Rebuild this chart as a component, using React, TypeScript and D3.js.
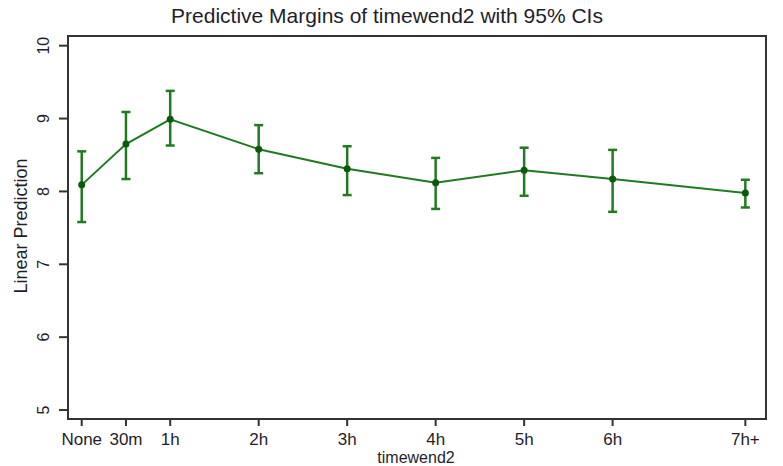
import React from "react";
import * as d3 from "d3";

// timewend2 categories, placed at their value in minutes
const categories = ["None", "30m", "1h", "2h", "3h", "4h", "5h", "6h", "7h+"];
const minutes = [0, 30, 60, 120, 180, 240, 300, 360, 450];
const margins = [8.09, 8.65, 8.99, 8.58, 8.31, 8.12, 8.29, 8.17, 7.98];
const ciLow = [7.58, 8.17, 8.63, 8.25, 7.95, 7.76, 7.94, 7.72, 7.78];
const ciHigh = [8.55, 9.09, 9.38, 8.91, 8.62, 8.46, 8.6, 8.57, 8.16];
const yTicks = [5, 6, 7, 8, 9, 10];

const width = 783;
const height = 466;
const margin = { top: 36, right: 17, bottom: 47, left: 68 };
const green = "#217a21";
const dark = "#0b5a0b";
const axisColor = "#333333";
const font = "'Liberation Sans', Arial, sans-serif";

export default function App() {
  const innerWidth = width - margin.left - margin.right;
  const innerHeight = height - margin.top - margin.bottom;

  const x = d3.scaleLinear().domain([-9.3, 464]).range([0, innerWidth]);
  const y = d3.scaleLinear().domain([4.877, 10.133]).range([innerHeight, 0]);

  const pts = minutes.map((m, i) => ({ m, v: margins[i], lo: ciLow[i], hi: ciHigh[i], label: categories[i] }));
  const line = d3
    .line<(typeof pts)[number]>()
    .x(d => x(d.m))
    .y(d => y(d.v));

  return (
    <svg
      width={width}
      height={height}
      style={{ position: "absolute", left: 0, top: 0, background: "#fff", fontFamily: font }}
    >
      <text x={387} y={23} textAnchor="middle" fontSize={21} fill="#1e1e2a">
        Predictive Margins of timewend2 with 95% CIs
      </text>
      <g transform={`translate(${margin.left},${margin.top})`}>
        <rect x={0} y={0} width={innerWidth} height={innerHeight} fill="none" stroke={axisColor} strokeWidth={2} />
        {yTicks.map(t => (
          <g key={t} transform={`translate(0,${y(t)})`}>
            <line x1={-9} x2={0} stroke={axisColor} strokeWidth={2} />
            <text transform="translate(-19,0) rotate(-90)" textAnchor="middle" fontSize={16} fill="#1e1e2a">
              {t}
            </text>
          </g>
        ))}
        {pts.map(d => (
          <g key={d.label} transform={`translate(${x(d.m)},${innerHeight})`}>
            <line y1={0} y2={7} stroke={axisColor} strokeWidth={2} />
            <text y={26} textAnchor="middle" fontSize={17} fill="#1e1e2a">
              {d.label}
            </text>
          </g>
        ))}
        <path d={line(pts) ?? undefined} fill="none" stroke={green} strokeWidth={2} />
        {pts.map(d => (
          <g key={d.label} stroke={green} strokeWidth={2.5}>
            <line x1={x(d.m)} x2={x(d.m)} y1={y(d.lo)} y2={y(d.hi)} />
            <line x1={x(d.m) - 4.5} x2={x(d.m) + 4.5} y1={y(d.lo)} y2={y(d.lo)} />
            <line x1={x(d.m) - 4.5} x2={x(d.m) + 4.5} y1={y(d.hi)} y2={y(d.hi)} />
          </g>
        ))}
        {pts.map(d => (
          <circle key={d.label} cx={x(d.m)} cy={y(d.v)} r={3.5} fill={dark} />
        ))}
      </g>
      <text x={416} y={463} textAnchor="middle" fontSize={16} fill="#1e1e2a">
        timewend2
      </text>
      <text transform="translate(27,226) rotate(-90)" textAnchor="middle" fontSize={18} fill="#1e1e2a">
        Linear Prediction
      </text>
    </svg>
  );
}
